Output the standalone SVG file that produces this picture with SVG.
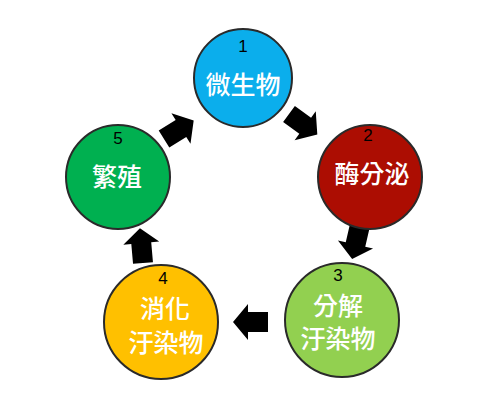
<svg xmlns="http://www.w3.org/2000/svg" width="481" height="401" viewBox="0 0 481 401">
<defs>
<path id="arr" d="M0,-10 L20,-10 L20,-18 L35,0 L20,18 L20,10 L0,10 Z"/>
<style>
.c{stroke:#2a2a2a;stroke-width:2}
.n{font-family:"Liberation Sans",Arial,sans-serif;font-size:17px;fill:#000;text-anchor:middle}
.t{font-family:"Noto Sans CJK TC","Noto Sans CJK SC",sans-serif;font-size:25px;fill:#fff;text-anchor:middle;font-weight:500}
</style>
</defs>
<rect width="481" height="401" fill="#fff"/>
<g id="connectors" fill="#000">
<use href="#arr" transform="translate(289,114) rotate(36)"/>
<use href="#arr" transform="translate(360,225) rotate(103)"/>
<use href="#arr" transform="translate(268,322) rotate(180)"/>
<use href="#arr" transform="translate(143,263) rotate(-95)"/>
<use href="#arr" transform="translate(164,139) rotate(-32)"/>
</g>
<g id="n1">
<circle class="c" cx="243" cy="78" r="49" fill="#0BAEEC"/>
<text class="n" x="243" y="52">1</text>
<text class="t" x="243" y="94">微生物</text>
</g>
<g id="n2">
<circle class="c" cx="370" cy="177" r="52" fill="#AC0D02"/>
<text class="n" x="368" y="141">2</text>
<text class="t" x="372" y="183">酶分泌</text>
</g>
<g id="n3">
<circle class="c" cx="342" cy="320" r="57" fill="#92D050"/>
<text class="n" x="338" y="281">3</text>
<text class="t" x="338" y="315">分解</text>
<text class="t" x="338" y="348">汙染物</text>
</g>
<g id="n4">
<circle class="c" cx="161" cy="322" r="57" fill="#FFC000"/>
<text class="n" x="163" y="284">4</text>
<text class="t" x="165" y="318">消化</text>
<text class="t" x="166" y="352">汙染物</text>
</g>
<g id="n5">
<circle class="c" cx="118" cy="177" r="52" fill="#00B050"/>
<text class="n" x="118" y="144">5</text>
<text class="t" x="117" y="186">繁殖</text>
</g>
</svg>
